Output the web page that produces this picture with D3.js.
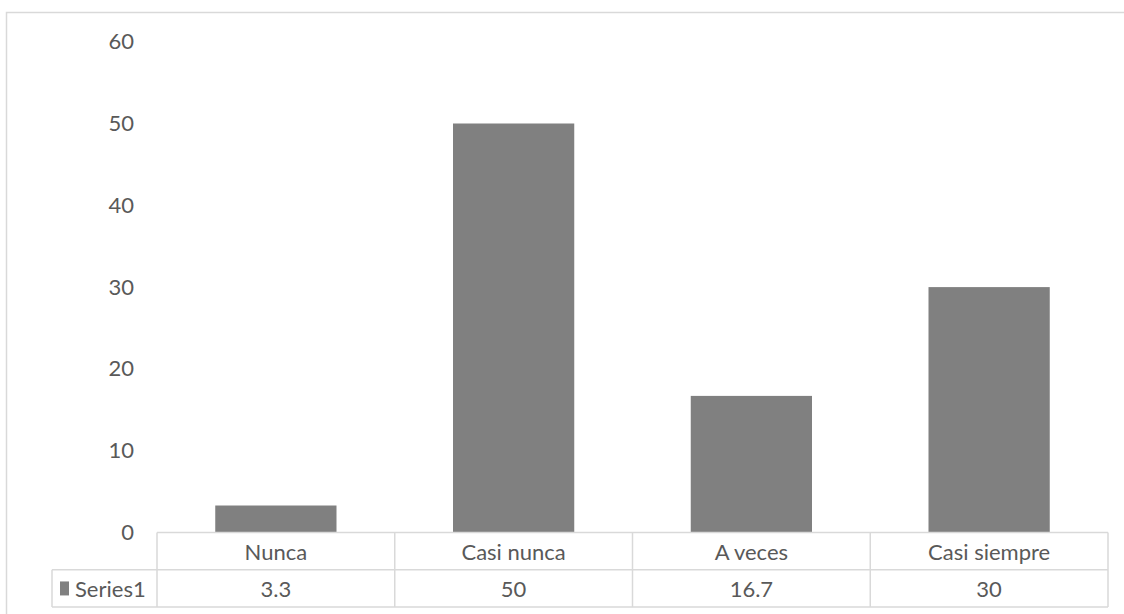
<!DOCTYPE html>
<html>
<head>
<meta charset="utf-8">
<script src="https://cdn.jsdelivr.net/npm/d3@7"></script>
<style>
  html, body { margin: 0; padding: 0; background: #fff; }
  svg { display: block; }
  text { font-family: Lato, "Open Sans", sans-serif; fill: #595959; }
</style>
</head>
<body>
<svg id="chart" width="1124" height="614"></svg>
<script>
const categories = ["Nunca", "Casi nunca", "A veces", "Casi siempre"];
const values = [3.3, 50, 16.7, 30];
const seriesName = "Series1";
const valueLabels = ["3.3", "50", "16.7", "30"];
const yTicks = [0, 10, 20, 30, 40, 50, 60];

const svg = d3.select("#chart");
const W = 1124, H = 614;
const lineColor = "#d9d9d9";
const fontSize = 22;

// outer chart border (cropped at right and bottom)
svg.append("path")
  .attr("d", `M6.5,${H + 2} V12.5 H${W + 2}`)
  .attr("fill", "none").attr("stroke", lineColor).attr("stroke-width", 1.5);

const plotLeft = 157, plotRight = 1108;
const y0 = 532.5, yTop = 41.7;
const rowH = 37.3;
const tableLeft = 52;

const x = d3.scaleBand().domain(categories).range([plotLeft, plotRight])
  .paddingInner(0.49).paddingOuter(0.245);
const y = d3.scaleLinear().domain([0, 60]).range([y0, yTop]);

// y axis labels
const yAxis = d3.axisLeft(y).tickValues(yTicks).tickSize(0).tickPadding(0).tickFormat(d3.format("d"));
const ag = svg.append("g").attr("transform", "translate(134,0)").call(yAxis);
ag.select(".domain").remove();
ag.selectAll("text").attr("font-size", fontSize).attr("fill", "#595959")
  .style("font-family", "Lato, 'Open Sans', sans-serif");

// bars
svg.append("g").selectAll("rect").data(values).join("rect")
  .attr("x", (d, i) => x(categories[i]))
  .attr("width", x.bandwidth())
  .attr("y", d => y(d))
  .attr("height", d => y(0) - y(d))
  .attr("fill", "#808080");

// data table
const cols = d3.scaleBand().domain(categories).range([plotLeft, plotRight]);
const tg = svg.append("g").attr("stroke", lineColor).attr("stroke-width", 1.5).attr("fill", "none");
tg.append("line").attr("x1", plotLeft).attr("x2", plotRight).attr("y1", y0).attr("y2", y0);
tg.append("line").attr("x1", tableLeft).attr("x2", plotRight).attr("y1", y0 + rowH).attr("y2", y0 + rowH);
tg.append("line").attr("x1", tableLeft).attr("x2", plotRight).attr("y1", y0 + 2 * rowH).attr("y2", y0 + 2 * rowH);
tg.append("line").attr("x1", tableLeft).attr("x2", tableLeft).attr("y1", y0 + rowH).attr("y2", y0 + 2 * rowH);
const vx = categories.map(c => cols(c)).concat([plotRight]);
tg.selectAll("line.v").data(vx).join("line").attr("class", "v")
  .attr("x1", d => d).attr("x2", d => d).attr("y1", y0).attr("y2", y0 + 2 * rowH);

// category labels
svg.append("g").selectAll("text").data(categories).join("text")
  .attr("x", d => cols(d) + cols.bandwidth() / 2)
  .attr("y", y0 + rowH / 2)
  .attr("text-anchor", "middle").attr("dominant-baseline", "central")
  .attr("font-size", fontSize)
  .text(d => d);

// values row
svg.append("g").selectAll("text").data(valueLabels).join("text")
  .attr("x", (d, i) => cols(categories[i]) + cols.bandwidth() / 2)
  .attr("y", y0 + rowH * 1.5)
  .attr("text-anchor", "middle").attr("dominant-baseline", "central")
  .attr("font-size", fontSize)
  .text(d => d);

// legend key + series name
svg.append("rect").attr("x", 60).attr("y", y0 + rowH * 1.5 - 7).attr("width", 9).attr("height", 14).attr("fill", "#808080");
svg.append("text").attr("x", 75).attr("y", y0 + rowH * 1.5)
  .attr("dominant-baseline", "central").attr("font-size", fontSize)
  .text(seriesName);
</script>
</body>
</html>
